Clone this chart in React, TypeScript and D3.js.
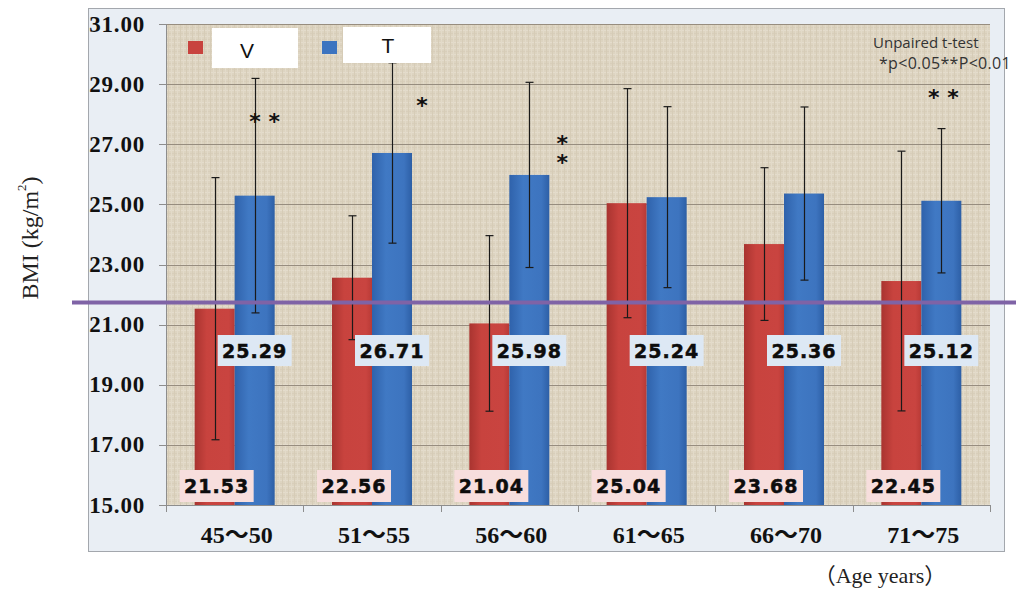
import React from "react";
import * as d3 from "d3";

// data
const categories = ["45～50", "51～55", "56～60", "61～65", "66～70", "71～75"];
const seriesNames = ["V", "T"];
const vMean = [21.53, 22.56, 21.04, 25.04, 23.68, 22.45];
const vSD = [4.36, 2.06, 2.92, 3.81, 2.54, 4.32];
const tMean = [25.29, 26.71, 25.98, 25.24, 25.36, 25.12];
const tSD = [3.9, 3.0, 3.08, 3.01, 2.88, 2.4];
const sigMarks = ["* *", "*", "**", "", "", "* *"];
const yTicks = [15, 17, 19, 21, 23, 25, 27, 29, 31];

// layout
const W = 1016;
const H = 590;
const plot = { left: 166, right: 990, top: 24, bottom: 505 };
const refLineY = 302.5;
const sigDx = [10, 30, 33, 0, 0, 2];
const sigY = [121, 105, 137, 0, 0, 97];
const sigVertical = [false, false, true, false, false, false];

const App = () => {
  const y = d3.scaleLinear().domain([15, 31]).range([plot.bottom, plot.top]);
  const x0 = d3.scaleBand().domain(categories).range([plot.left, plot.right]);
  const bw = x0.bandwidth();
  const barW = 40;
  const x1 = d3
    .scaleBand()
    .domain(seriesNames)
    .range([0, bw])
    .paddingInner(0)
    .paddingOuter((bw - 2 * barW) / 2 / barW);
  const fmt = d3.format(".2f");

  const series = [
    { name: "V", mean: vMean, sd: vSD, fill: "url(#gRed)" },
    { name: "T", mean: tMean, sd: tSD, fill: "url(#gBlue)" },
  ];

  const serif = "'Liberation Serif', 'Times New Roman', 'Noto Sans CJK JP', serif";
  const boldSans = "'DejaVu Sans', sans-serif";
  const noteFont = "'Open Sans', 'Liberation Sans', sans-serif";

  return (
    <svg
      width={W}
      height={H}
      style={{ position: "absolute", left: 0, top: 0, background: "#fff" }}
    >
      <defs>
        <linearGradient id="gRed" x1="0" x2="1" y1="0" y2="0">
          <stop offset="0" stopColor="#a93430" />
          <stop offset="0.3" stopColor="#c8433e" />
          <stop offset="0.85" stopColor="#c94440" />
          <stop offset="1" stopColor="#b83a36" />
        </linearGradient>
        <linearGradient id="gBlue" x1="0" x2="1" y1="0" y2="0">
          <stop offset="0" stopColor="#2f62ab" />
          <stop offset="0.35" stopColor="#4079c4" />
          <stop offset="0.8" stopColor="#3d74bf" />
          <stop offset="1" stopColor="#2d5fa6" />
        </linearGradient>
        <pattern id="linen" width="6" height="6" patternUnits="userSpaceOnUse">
          <rect width="6" height="6" fill="#ddd4c1" />
          <rect x="0" y="0" width="6" height="1" fill="#e4dccc" />
          <rect x="0" y="3" width="6" height="1" fill="#d8ceba" />
          <rect x="0" y="0" width="1" height="6" fill="#d6ccb7" />
          <rect x="3" y="0" width="1" height="6" fill="#e2dac9" />
        </pattern>
      </defs>

      {/* outer frame */}
      <rect x={88.5} y={8.5} width={916} height={543} fill="#e9eef4" stroke="#a3a7ad" />

      {/* plot area */}
      <rect
        x={plot.left}
        y={plot.top}
        width={plot.right - plot.left}
        height={plot.bottom - plot.top}
        fill="url(#linen)"
      />

      {/* grid lines */}
      {yTicks.map((t) => (
        <line
          key={"g" + t}
          x1={plot.left}
          x2={plot.right}
          y1={Math.round(y(t)) + 0.5}
          y2={Math.round(y(t)) + 0.5}
          stroke="#978d7f"
          strokeWidth={1}
        />
      ))}

      {/* y axis */}
      <line x1={plot.left + 0.5} x2={plot.left + 0.5} y1={plot.top} y2={plot.bottom} stroke="#8d8d8d" />
      {yTicks.map((t) => (
        <g key={"yt" + t}>
          <line
            x1={plot.left - 7}
            x2={plot.left}
            y1={Math.round(y(t)) + 0.5}
            y2={Math.round(y(t)) + 0.5}
            stroke="#8d8d8d"
          />
          <text
            x={145}
            y={y(t)}
            textAnchor="end"
            dominantBaseline="central"
            fontFamily={serif}
            fontWeight="bold"
            fontSize={23}
            letterSpacing={0.8}
            fill="#111"
          >
            {fmt(t)}
          </text>
        </g>
      ))}

      {/* x axis */}
      <line x1={plot.left} x2={plot.right} y1={plot.bottom + 0.5} y2={plot.bottom + 0.5} stroke="#8d8d8d" />
      {[...categories.map((c) => x0(c) as number), plot.right].map((px, i) => (
        <line
          key={"xt" + i}
          x1={Math.round(px) + 0.5}
          x2={Math.round(px) + 0.5}
          y1={plot.bottom}
          y2={plot.bottom + 7}
          stroke="#8d8d8d"
        />
      ))}
      {categories.map((c) => (
        <text
          key={"xl" + c}
          x={(x0(c) as number) + bw / 2 + 2}
          y={535}
          textAnchor="middle"
          dominantBaseline="central"
          fontFamily={serif}
          fontWeight="bold"
          fontSize={24}
          fill="#111"
        >
          {c}
        </text>
      ))}

      {/* bars */}
      {series.map((s) =>
        categories.map((c, i) => (
          <rect
            key={s.name + c}
            x={(x0(c) as number) + (x1(s.name) as number)}
            y={y(s.mean[i])}
            width={x1.bandwidth()}
            height={plot.bottom - y(s.mean[i])}
            fill={s.fill}
          />
        ))
      )}

      {/* error bars */}
      {series.map((s) =>
        categories.map((c, i) => {
          const cx = Math.round((x0(c) as number) + (x1(s.name) as number) + x1.bandwidth() / 2) + 0.5;
          const hi = y(s.mean[i] + s.sd[i]);
          const lo = y(s.mean[i] - s.sd[i]);
          return (
            <g key={"e" + s.name + c} stroke="#1a1a1a" strokeWidth={1.2}>
              <line x1={cx} x2={cx} y1={hi} y2={lo} />
              <line x1={cx - 4} x2={cx + 4} y1={hi} y2={hi} />
              <line x1={cx - 4} x2={cx + 4} y1={lo} y2={lo} />
            </g>
          );
        })
      )}

      {/* reference line */}
      <line x1={72} x2={W} y1={refLineY} y2={refLineY} stroke="#7f63a6" strokeWidth={4} />

      {/* value labels: T */}
      {categories.map((c, i) => {
        const cx = (x0(c) as number) + (x1("T") as number) + x1.bandwidth() / 2;
        return (
          <g key={"tl" + c}>
            <rect x={cx - 37} y={335} width={74} height={31} fill="#dde8f4" />
            <text
              x={cx}
              y={351}
              textAnchor="middle"
              dominantBaseline="central"
              fontFamily={boldSans}
              fontWeight="bold"
              fontSize={19}
              letterSpacing={1}
              stroke="#0d0d0d"
              strokeWidth={0.5}
              fill="#0d0d0d"
            >
              {fmt(tMean[i])}
            </text>
          </g>
        );
      })}

      {/* value labels: V */}
      {categories.map((c, i) => {
        const cx = (x0(c) as number) + (x1("V") as number) + x1.bandwidth() / 2 + 2;
        return (
          <g key={"vl" + c}>
            <rect x={cx - 37} y={470} width={74} height={32} fill="#f7dedd" />
            <text
              x={cx}
              y={486}
              textAnchor="middle"
              dominantBaseline="central"
              fontFamily={boldSans}
              fontWeight="bold"
              fontSize={19}
              letterSpacing={1}
              stroke="#0d0d0d"
              strokeWidth={0.5}
              fill="#0d0d0d"
            >
              {fmt(vMean[i])}
            </text>
          </g>
        );
      })}

      {/* significance marks */}
      {categories.map((c, i) => {
        const m = sigMarks[i];
        if (!m) return null;
        const cx = (x0(c) as number) + (x1("T") as number) + x1.bandwidth() / 2 + sigDx[i];
        if (sigVertical[i]) {
          return (
            <text
              key={"s" + c}
              x={cx}
              y={sigY[i] - 6}
              fontFamily={boldSans}
              fontWeight="bold"
              fontSize={22}
              letterSpacing={-6}
              fill="#111"
              style={{ writingMode: "vertical-rl", textOrientation: "upright" }}
            >
              {m}
            </text>
          );
        }
        return (
          <text
            key={"s" + c}
            x={cx}
            y={sigY[i] + 8}
            textAnchor="middle"
            fontFamily={boldSans}
            fontWeight="bold"
            fontSize={22}
            fill="#111"
          >
            {m}
          </text>
        );
      })}

      {/* legend */}
      <rect x={188} y={41} width={15} height={13} fill="#c8433e" />
      <rect x={212} y={28} width={86} height={40} fill="#ffffff" />
      <text x={247} y={50} textAnchor="middle" dominantBaseline="central" fontFamily="'Liberation Sans', Arial, sans-serif" fontSize={21} fill="#111">
        {seriesNames[0]}
      </text>
      <rect x={322} y={41} width={15} height={13} fill="#3c74c0" />
      <rect x={343} y={27} width={88} height={36} fill="#ffffff" />
      <text x={388} y={45} textAnchor="middle" dominantBaseline="central" fontFamily="'Liberation Sans', Arial, sans-serif" fontSize={21} fill="#111">
        {seriesNames[1]}
      </text>

      {/* test note */}
      <text x={873} y={42} dominantBaseline="central" fontFamily={noteFont} fontSize={15} fill="#333">
        Unpaired t-test
      </text>
      <text x={879} y={63} dominantBaseline="central" fontFamily={noteFont} fontSize={16} letterSpacing={0.3} fill="#333">
        *p&lt;0.05**P&lt;0.01
      </text>

      {/* axis titles */}
      <text
        transform="translate(30,238) rotate(-90)"
        textAnchor="middle"
        dominantBaseline="central"
        fontFamily={serif}
        fontSize={24}
        fill="#222"
      >
        BMI (kg/m<tspan fontSize={13} dy={-9}>2</tspan><tspan dy={9}>)</tspan>
      </text>
      <text x={880} y={575} textAnchor="middle" dominantBaseline="central" fontFamily={serif} fontSize={22} fill="#222">
        （Age years）
      </text>
    </svg>
  );
};

export default App;
